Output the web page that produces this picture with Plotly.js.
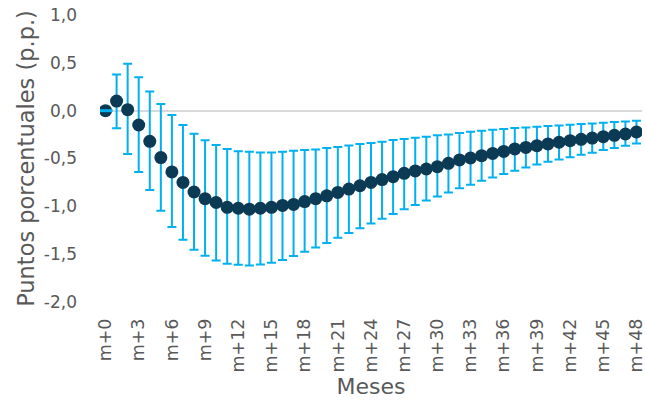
<!DOCTYPE html>
<html>
<head>
<meta charset="utf-8">
<script src="https://cdn.plot.ly/plotly-3.0.1.min.js"></script>
<style>html,body{margin:0;padding:0;background:#fff;}#chart{width:647px;height:403px;}</style>
</head>
<body>
<div id="chart"></div>
<script>
// Months after the shock (m+0 ... m+48)
const months = Array.from({length: 49}, (_, i) => i);
const tickMonths = [0,3,6,9,12,15,18,21,24,27,30,33,36,39,42,45,48];
const tickLabels = ["m+0","m+3","m+6","m+9","m+12","m+15","m+18","m+21","m+24","m+27","m+30","m+33","m+36","m+39","m+42","m+45","m+48"];

// Point estimates (p.p.)
const estimate = [0.00, 0.10, 0.01, -0.15, -0.32, -0.49, -0.64, -0.75, -0.85, -0.92,
  -0.96, -1.01, -1.02, -1.03, -1.02, -1.01, -0.99, -0.98, -0.95, -0.92,
  -0.89, -0.855, -0.82, -0.785, -0.75, -0.72, -0.69, -0.655, -0.63, -0.61,
  -0.585, -0.55, -0.515, -0.495, -0.47, -0.447, -0.426, -0.40, -0.384, -0.366,
  -0.348, -0.33, -0.314, -0.30, -0.286, -0.272, -0.258, -0.244, -0.223];

// Upper bound of the interval
const upper = [0.00, 0.377, 0.49, 0.35, 0.20, 0.07, -0.045, -0.15, -0.24, -0.31,
  -0.36, -0.40, -0.425, -0.43, -0.436, -0.436, -0.43, -0.42, -0.41, -0.405,
  -0.39, -0.38, -0.363, -0.348, -0.338, -0.324, -0.306, -0.296, -0.282, -0.272,
  -0.258, -0.248, -0.233, -0.22, -0.209, -0.199, -0.191, -0.181, -0.175, -0.167,
  -0.16, -0.154, -0.146, -0.139, -0.133, -0.126, -0.118, -0.112, -0.105];

// Lower bound of the interval
const lower = [0.00, -0.185, -0.453, -0.64, -0.83, -1.046, -1.217, -1.35, -1.454, -1.517,
  -1.567, -1.60, -1.61, -1.618, -1.608, -1.59, -1.56, -1.52, -1.475, -1.43,
  -1.384, -1.328, -1.28, -1.23, -1.18, -1.13, -1.08, -1.03, -0.986, -0.94,
  -0.896, -0.855, -0.81, -0.774, -0.732, -0.698, -0.663, -0.628, -0.593, -0.562,
  -0.533, -0.51, -0.488, -0.46, -0.44, -0.412, -0.39, -0.366, -0.342];

const yTickVals = [1, 0.5, 0, -0.5, -1, -1.5, -2];
const yTickText = ["1,0", "0,5", "0,0", "-0,5", "-1,0", "-1,5", "-2,0"];

const barColor = "#00b0f0";
const dotColor = "#0b3a55";
const textColor = "#595959";
const font = "DejaVu Sans, sans-serif";

const errPlus = estimate.map((v, i) => upper[i] - v);
const errMinus = estimate.map((v, i) => v - lower[i]);

const main = {
  type: "scatter",
  mode: "markers",
  x: months,
  y: estimate,
  marker: {color: dotColor, size: 13},
  error_y: {
    type: "data", symmetric: false,
    array: errPlus, arrayminus: errMinus,
    color: barColor, thickness: 2, width: 4.5
  },
  hoverinfo: "x+y",
  showlegend: false
};

// zero-width interval at m+0 drawn as a dash on top of the dot
const firstDash = {
  type: "scatter",
  mode: "markers",
  x: [months[0]],
  y: [estimate[0]],
  marker: {symbol: "line-ew-open", size: 10, color: barColor, line: {color: barColor, width: 3}},
  hoverinfo: "skip",
  showlegend: false
};

const layout = {
  width: 647, height: 403,
  margin: {l: 100, r: 5, t: 15, b: 101},
  paper_bgcolor: "#ffffff",
  plot_bgcolor: "#ffffff",
  font: {family: font, color: textColor},
  xaxis: {
    range: [-0.5, 48.5],
    tickmode: "array",
    tickvals: tickMonths,
    ticktext: tickLabels,
    tickangle: -90,
    tickfont: {size: 17.5, color: textColor, family: font},
    showgrid: false, zeroline: false, showline: false, ticks: "",
    ticklabelstandoff: 12,
    title: {text: "Meses", font: {size: 22, color: textColor, family: font}, standoff: 7}
  },
  yaxis: {
    range: [-2, 1],
    tickmode: "array",
    tickvals: yTickVals,
    ticktext: yTickText,
    tickfont: {size: 17, color: textColor, family: font},
    showgrid: false, showline: false, ticks: "",
    zeroline: true, zerolinecolor: "#d9d9d9", zerolinewidth: 2,
    ticklabelstandoff: 22,
    title: {text: "Puntos porcentuales (p.p.)", font: {size: 22.5, color: textColor, family: font}, standoff: 2}
  }
};

Plotly.newPlot("chart", [main, firstDash], layout, {displayModeBar: false, staticPlot: true});
</script>
</body>
</html>
